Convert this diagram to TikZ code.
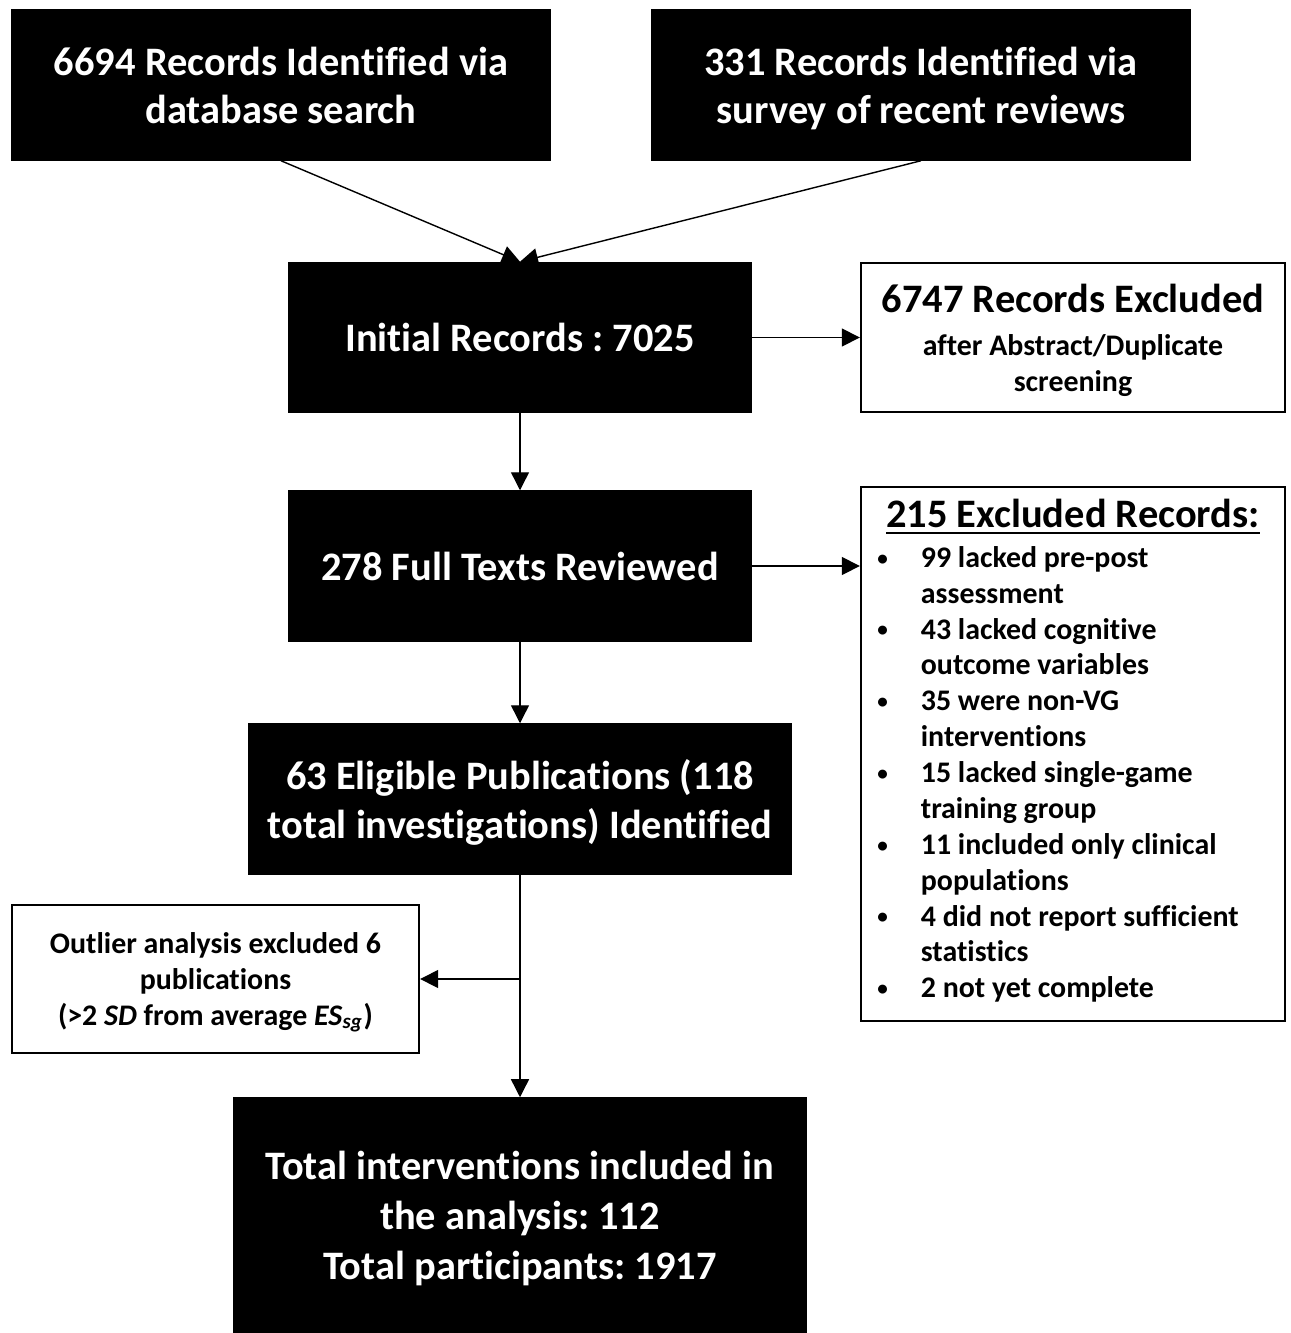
\documentclass[tikz,border=0pt]{standalone}
\usepackage{fontspec}
\setmainfont{Carlito}[Ligatures=NoCommon]
\usepackage{tikz}
\usetikzlibrary{positioning, arrows.meta, calc}

\frenchspacing
\newcommand{\bigtext}{\fontsize{11.5}{13.7}\selectfont\bfseries}
\newcommand{\smalltext}{\fontsize{8.5}{10.2}\selectfont\bfseries}
\newcommand{\dotmark}{\raisebox{0.15ex}{\fontsize{6}{6}\selectfont\textbullet}}

\tikzset{
  blackbox/.style={draw=black, fill=black, text=white, font=\bigtext, align=center,
    minimum height=1.5cm, inner sep=0pt, text depth=0pt},
  whitebox/.style={draw=black, line width=0.6pt, fill=white, font=\smalltext, align=center,
    inner sep=0pt},
  flow/.style={-{Triangle[length=0.18cm,width=0.18cm]}, line width=0.4pt}
}

\begin{document}
\begin{tikzpicture}[x=0.01cm, y=-0.01cm]
  \useasboundingbox (0,0) rectangle (1290,1333);

  % sources
  \node[blackbox, minimum width=5.38cm] (dbsearch) at (281,85) {6694 Records Identified via\\database search};
  \node[blackbox, minimum width=5.38cm] (reviews) at (921,85) {331 Records Identified via\\survey of recent reviews};

  % screening
  \node[blackbox, minimum width=4.62cm] (initial) at (520,337.5) {Initial Records : 7025};
  \node[whitebox, text depth=0pt, minimum width=4.24cm, minimum height=1.49cm] (abstract) at (1073,337.5)
    {{\bigtext 6747 Records Excluded}\\[2pt]after Abstract/Duplicate\\screening};

  \node[blackbox, minimum width=4.62cm] (fulltext) at (520,566) {278 Full Texts Reviewed};
  \node[whitebox, minimum width=4.24cm, minimum height=5.34cm] (excluded) at (1073,754)
    {\underline{\bigtext 215 Excluded Records:}\\[1pt]
     \begin{tabular}{@{}l@{\hspace{0.33cm}}l@{\hspace{0.3cm}}}
       \dotmark & 99 lacked pre-post\\
                & assessment\\
       \dotmark & 43 lacked cognitive\\
                & outcome variables\\
       \dotmark & 35 were non-VG\\
                & interventions\\
       \dotmark & 15 lacked single-game\\
                & training group\\
       \dotmark & 11 included only clinical\\
                & populations\\
       \dotmark & 4 did not report sufficient\\
                & statistics\\
       \dotmark & 2 not yet complete
     \end{tabular}};

  % eligibility
  \node[blackbox, minimum width=5.42cm] (eligible) at (520,799) {63 Eligible Publications (118\\total investigations) Identified};
  \node[whitebox, text depth=0pt, minimum width=4.07cm, minimum height=1.48cm] (outlier) at (215.5,979)
    {Outlier analysis excluded 6\\publications\\(>2 \textit{SD} from average \textit{ES}\textsubscript{\textit{sg}})};

  % included
  \node[blackbox, minimum width=5.72cm, minimum height=2.35cm, text depth=-0.08cm,
    font=\fontsize{11.5}{14.2}\selectfont\bfseries] (included) at (520,1215.5)
    {Total interventions included in\\the analysis: 112\\Total participants: 1917};

  \coordinate (branch) at (eligible.south |- outlier.east);

  \draw[flow] (dbsearch.south) -- (initial.north);
  \draw[flow] (reviews.south) -- (initial.north);
  \draw[flow] (initial) -- (abstract);
  \draw[flow] (initial) -- (fulltext);
  \draw[flow] (fulltext.east) -- (fulltext.east -| excluded.west);
  \draw[flow] (fulltext) -- (eligible);
  \draw[flow] (eligible) -- (included);
  \draw[flow] (branch) -- (outlier.east);
\end{tikzpicture}
\end{document}
